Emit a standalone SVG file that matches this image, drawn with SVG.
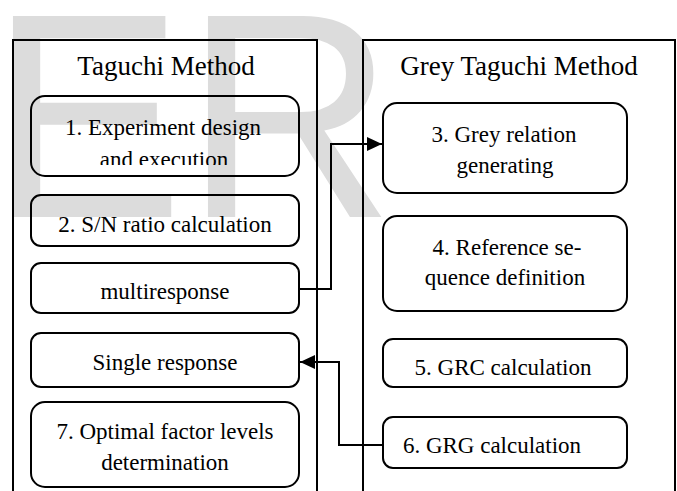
<svg xmlns="http://www.w3.org/2000/svg" width="677" height="491" viewBox="0 0 677 491">
<style>
.wm{font-family:"Liberation Sans",Arial,sans-serif;font-size:292px;fill:#dcdcdc}
.frame{fill:none;stroke:#000;stroke-width:2}
.box{fill:none;stroke:#000;stroke-width:2}
.title{font-family:"Liberation Serif","Times New Roman",serif;font-size:27px;fill:#000;text-anchor:middle}
.t{font-family:"Liberation Serif","Times New Roman",serif;font-size:23px;fill:#000;text-anchor:middle}
.conn{fill:none;stroke:#000;stroke-width:2}
</style>
<defs>
<marker id="arr" markerUnits="userSpaceOnUse" markerWidth="16" markerHeight="16" refX="15" refY="7" orient="auto">
<path d="M0,0 L15,7 L0,14 z" fill="#000"/>
</marker>
<clipPath id="clip1"><rect x="31" y="96" width="268" height="69"/></clipPath>
</defs>
<rect width="677" height="491" fill="#fff"/>
<g id="watermark">
<text class="wm" x="-11" y="217">E</text>
<text class="wm" x="184" y="217">R</text>
</g>
<g id="taguchi-method">
<path class="frame" d="M13,491 V40 H317 V491"/>
<text class="title" x="166" y="75">Taguchi Method</text>
</g>
<g id="grey-taguchi-method">
<path class="frame" d="M363,491 V40 H675 V491"/>
<text class="title" x="519" y="75">Grey Taguchi Method</text>
</g>
<g id="n1">
<rect class="box" x="31" y="96" width="268" height="80" rx="14"/>
<g clip-path="url(#clip1)">
<text class="t" x="163" y="135">1. Experiment design</text>
<text class="t" x="164" y="167">and execution</text>
</g>
</g>
<g id="n2">
<rect class="box" x="31" y="195" width="268" height="51" rx="10"/>
<text class="t" x="165" y="232">2. S/N ratio calculation</text>
</g>
<g id="multiresponse">
<rect class="box" x="31" y="263" width="268" height="50" rx="10"/>
<text class="t" x="165" y="299">multiresponse</text>
</g>
<g id="single-response">
<rect class="box" x="31" y="333" width="268" height="54" rx="10"/>
<text class="t" x="165" y="370">Single response</text>
</g>
<g id="n7">
<rect class="box" x="31" y="402" width="268" height="85" rx="14"/>
<text class="t" x="165" y="439">7. Optimal factor levels</text>
<text class="t" x="165" y="470">determination</text>
</g>
<g id="n3">
<rect class="box" x="383" y="103" width="244" height="90" rx="14"/>
<text class="t" x="504" y="142">3. Grey relation</text>
<text class="t" x="505" y="173">generating</text>
</g>
<g id="n4">
<rect class="box" x="383" y="216" width="244" height="95" rx="14"/>
<text class="t" x="507" y="255">4. Reference se-</text>
<text class="t" x="505" y="285">quence definition</text>
</g>
<g id="n5">
<rect class="box" x="383" y="339" width="244" height="48" rx="10"/>
<text class="t" x="503" y="375">5. GRC calculation</text>
</g>
<g id="n6">
<rect class="box" x="383" y="417" width="244" height="51" rx="10"/>
<text class="t" x="492" y="453">6. GRG calculation</text>
</g>
<g id="connectors">
<path class="conn" d="M300,289 H331 V144 H382" marker-end="url(#arr)"/>
<path class="conn" d="M383,445 H339 V362 H300" marker-end="url(#arr)"/>
</g>
</svg>
